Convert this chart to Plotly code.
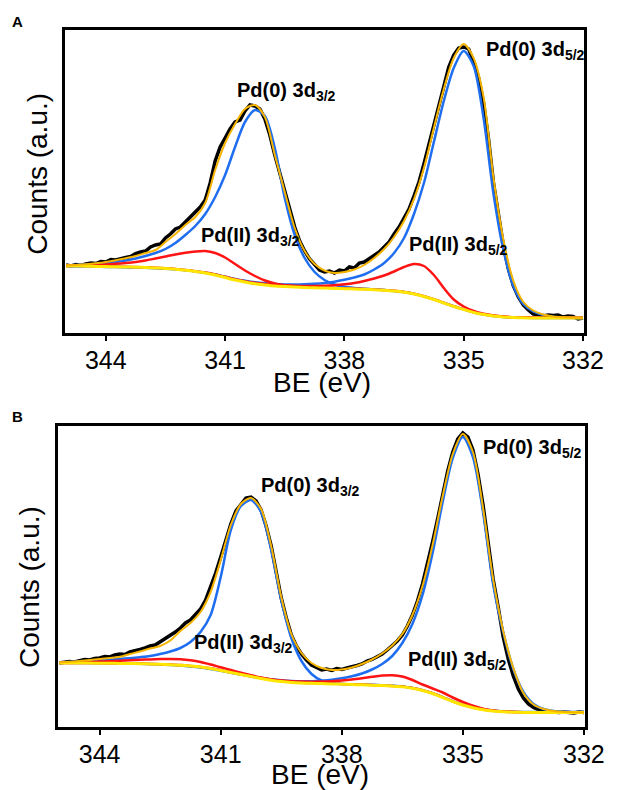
import plotly.graph_objects as go

# binding energy grid of the fitted curves (eV)
BE = [345.0, 344.75, 344.5, 344.25, 344.0, 343.75, 343.5, 343.25, 343.0, 342.75,
      342.5, 342.25, 342.0, 341.75, 341.5, 341.25, 341.0, 340.75, 340.5, 340.25,
      340.0, 339.75, 339.5, 339.25, 339.0, 338.75, 338.5, 338.25, 338.0, 337.75,
      337.5, 337.25, 337.0, 336.75, 336.5, 336.25, 336.0, 335.75, 335.5, 335.25,
      335.0, 334.75, 334.5, 334.25, 334.0, 333.75, 333.5, 333.25, 333.0, 332.75,
      332.5, 332.25, 332.0]

# binding energy grid of the measured spectra (eV)
BE_RAW = [345.0, 344.875, 344.75, 344.625, 344.5, 344.375, 344.25, 344.125,
          344.0, 343.875, 343.75, 343.625, 343.5, 343.375, 343.25, 343.125,
          343.0, 342.875, 342.75, 342.625, 342.5, 342.375, 342.25, 342.125,
          342.0, 341.875, 341.75, 341.625, 341.5, 341.375, 341.25, 341.125,
          341.0, 340.875, 340.75, 340.625, 340.5, 340.375, 340.25, 340.125,
          340.0, 339.875, 339.75, 339.625, 339.5, 339.375, 339.25, 339.125,
          339.0, 338.875, 338.75, 338.625, 338.5, 338.375, 338.25, 338.125,
          338.0, 337.875, 337.75, 337.625, 337.5, 337.375, 337.25, 337.125,
          337.0, 336.875, 336.75, 336.625, 336.5, 336.375, 336.25, 336.125,
          336.0, 335.875, 335.75, 335.625, 335.5, 335.375, 335.25, 335.125,
          335.0, 334.875, 334.75, 334.625, 334.5, 334.375, 334.25, 334.125,
          334.0, 333.875, 333.75, 333.625, 333.5, 333.375, 333.25, 333.125,
          333.0, 332.875, 332.75, 332.625, 332.5, 332.375, 332.25, 332.125,
          332.0]

# ---- panel A (counts, a.u.) ----
A_RAW = [68, 67, 68.5, 67.5, 69, 70, 69.5, 71.5,
         71, 73.5, 73, 74.5, 75.5, 76.5, 79.5, 81,
         82, 86, 88, 89, 95, 99, 104, 106,
         111, 117, 121, 126, 133, 150, 172, 186,
         195, 204, 211, 213, 222, 228, 227, 224,
         214, 198, 178, 160, 141, 122, 106, 92,
         82, 74, 68, 63, 61, 62, 60, 63,
         62, 66, 65, 70, 71, 74, 78, 81,
         86, 91, 99, 106, 115, 124, 137, 151,
         169, 188, 208, 228, 248, 266, 278, 285,
         286, 284, 271, 255, 230, 194, 150, 116,
         87, 64, 47, 36, 28, 23, 19, 18.5,
         17, 18, 17.5, 18, 16, 17, 16.5, 14,
         15]
A_ENVELOPE = [67.5, 68, 68.7, 69.7, 71, 72.7, 74.7, 77, 80, 83,
              91, 99, 108, 116, 130, 163, 190, 209, 224, 228,
              216, 178, 141, 105, 82, 69, 62.5, 60, 61, 63.5,
              68, 75, 84, 96, 112, 134, 165, 205, 244, 275,
              289, 275, 236, 155, 93, 52, 31, 22.5, 18.5, 16.5,
              15.7, 15.3, 15]
A_PD0_32 = [67.5, 68, 68.5, 69, 70, 71, 72.5, 74.5, 77, 80,
            84, 90, 98, 107, 119, 136, 158, 186, 211, 223,
            217, 185, 135, 98, 75, 61, 53, 48.5, 46.2, 45,
            44.2, 43.6, 43, 42.1, 40.9, 39.1, 36.6, 33.6, 30.1, 26.6,
            23.6, 20.6, 18.6, 17.1, 16.1, 15.6, 15.3, 15.1, 15.1, 15.1,
            15.1, 15.1, 15.1]
A_PD0_52 = [66.7, 66.6, 66.5, 66.3, 66.1, 65.9, 65.7, 65.5, 65.2, 64.8,
            64.3, 63.6, 62.7, 61.6, 60.2, 58.4, 56.2, 54, 52.2, 50.7,
            49.7, 49, 48.6, 48.5, 48.7, 49.2, 50, 51.3, 53.2, 55.5,
            58.5, 63.5, 70, 80, 95, 119, 150, 191, 232, 265,
            282, 267, 215, 139, 83, 47, 29, 21.5, 18, 16.2,
            15.5, 15.2, 15]
A_PD2_32 = [67, 67.2, 67.5, 68, 68.5, 69.2, 70, 71, 72.5, 74.5,
            76.5, 78.5, 80.2, 81.5, 82, 80, 75.5, 69, 62.5, 57,
            52.5, 49.5, 47.7, 46.7, 46, 45.6, 45.3, 45, 44.7, 44.3,
            44, 43.6, 43.1, 42.3, 41.1, 39.3, 36.8, 33.8, 30.3, 26.8,
            23.8, 20.8, 18.8, 17.3, 16.3, 15.8, 15.5, 15.3, 15.3, 15.3,
            15.3, 15.3, 15.3]
A_PD2_52 = [67.2, 67.2, 67, 66.8, 66.6, 66.4, 66.2, 66, 65.7, 65.2,
            64.7, 64, 63, 61.8, 60.4, 58.5, 56.2, 53.8, 51.8, 50.2,
            49.1, 48.2, 47.6, 47.2, 47, 47, 47.2, 47.8, 48.7, 50,
            52, 54.5, 57.5, 61.5, 66, 69, 67, 58, 45, 33.5,
            26.5, 22, 19.2, 17.5, 16.4, 15.8, 15.5, 15.3, 15.3, 15.3,
            15.3, 15.3, 15.3]
A_BACKGROUND = [67, 67, 66.8, 66.6, 66.4, 66.2, 66, 65.8, 65.5, 65,
                64.5, 63.7, 62.7, 61.5, 60, 58, 55.5, 53, 51, 49.2,
                48, 47, 46.4, 45.9, 45.5, 45.2, 44.9, 44.6, 44.3, 44,
                43.7, 43.3, 42.8, 42, 40.8, 39, 36.5, 33.5, 30, 26.5,
                23.5, 20.5, 18.5, 17, 16, 15.5, 15.2, 15, 15, 15,
                15, 15, 15]

# ---- panel B (counts, a.u.) ----
B_RAW = [64, 64.5, 65.5, 65, 66.5, 67.5, 67, 68.5,
         69, 70.5, 70, 72, 73, 72.5, 75, 76,
         77.5, 79, 81, 82, 85, 88, 91, 95,
         99, 104, 107, 112, 118, 127, 140, 154,
         170, 186, 203, 216, 222, 229, 230, 226,
         217, 201, 181, 155, 129, 109, 92, 81,
         73, 67, 62, 59.5, 57, 58, 56.5, 58.5,
         57.5, 59, 60, 61.5, 63, 66, 67.5, 70,
         73, 77, 81, 86, 92, 101, 112, 126,
         143, 163, 185, 208, 233, 256, 275, 288,
         294, 290, 277, 253, 222, 186, 148, 120,
         90, 68, 51, 38, 29, 23, 19.5, 17.5,
         16, 15.5, 15, 14.5, 15, 14.5, 14, 15,
         14.5]
B_ENVELOPE = [64.5, 65.2, 66, 67, 68, 69, 70.2, 73, 75.5, 78.5,
              81, 86.5, 96, 104, 115, 135, 167, 202, 223, 229,
              218, 181, 130, 93, 74, 64, 59, 57, 57.5, 59.5,
              63, 67.5, 73.5, 81.5, 93, 112, 141, 182, 231, 273,
              293, 275, 219, 148, 96, 59, 34, 22.5, 18, 16,
              15.2, 14.8, 14.5]
B_PD0_32 = [64.5, 65, 65.5, 66, 66.7, 67.3, 68, 68.8, 69.8, 71,
            73, 75.5, 79, 85, 95, 112, 150, 197, 221, 227,
            215, 177, 127, 89, 66, 53, 46.5, 44, 43, 42.7,
            42.6, 42.2, 41.8, 41.3, 40.6, 39.1, 36.9, 33.9, 29.9, 25.9,
            22.4, 19.6, 17.7, 16.4, 15.6, 15.2, 15, 14.9, 14.9, 14.9,
            14.9, 14.9, 14.9]
B_PD0_52 = [64.2, 64.1, 64, 63.9, 63.8, 63.7, 63.6, 63.4, 63.2, 62.9,
            62.5, 62, 61.4, 60.5, 59.4, 58, 56.2, 54.3, 52.4, 50.6,
            49, 47.7, 46.7, 46, 45.7, 45.8, 46.3, 47.2, 48.7, 50.7,
            53.5, 57.5, 63, 71, 84, 103, 132, 174, 225, 269,
            290, 270, 215, 143, 95, 58, 35, 23, 18, 16,
            15.2, 14.7, 14.5]
B_PD2_32 = [64.2, 64.4, 64.7, 65, 65.4, 65.8, 66.2, 66.7, 67.2, 67.6,
            67.9, 68, 67.7, 66.7, 65, 62.5, 59.7, 57, 54.3, 51.8,
            49.5, 47.5, 46, 44.9, 44.3, 43.9, 43.6, 43.3, 43, 42.7,
            42.4, 42, 41.6, 41.1, 40.4, 38.9, 36.7, 33.7, 29.7, 25.7,
            22.2, 19.4, 17.5, 16.2, 15.4, 15, 14.8, 14.7, 14.7, 14.7,
            14.7, 14.7, 14.7]
B_PD2_52 = [64.1, 64.1, 64.1, 64, 63.9, 63.8, 63.7, 63.6, 63.4, 63.1,
            62.8, 62.4, 61.9, 61.1, 60.1, 58.7, 56.8, 54.8, 52.8, 50.9,
            49.1, 47.6, 46.5, 45.8, 45.4, 45.3, 45.4, 45.8, 46.5, 47.5,
            48.8, 50.2, 51.4, 51.8, 50.5, 47, 42.5, 38.5, 34.5, 29.5,
            25, 21.2, 18.4, 16.5, 15.5, 15, 14.8, 14.7, 14.7, 14.7,
            14.7, 14.7, 14.7]
B_BACKGROUND = [64, 64, 64, 63.9, 63.8, 63.7, 63.6, 63.5, 63.3, 63,
                62.7, 62.3, 61.8, 61, 60, 58.5, 56.5, 54.5, 52.5, 50.5,
                48.5, 46.8, 45.5, 44.5, 44, 43.7, 43.4, 43.1, 42.8, 42.5,
                42.2, 41.8, 41.4, 40.9, 40.2, 38.7, 36.5, 33.5, 29.5, 25.5,
                22, 19.2, 17.3, 16, 15.2, 14.8, 14.6, 14.5, 14.5, 14.5,
                14.5, 14.5, 14.5]

TICKS = [344, 341, 338, 335, 332]

BLACK = '#000000'
ORANGE = '#F5B400'
BLUE = '#1F6EF0'
RED = '#FF1414'
YELLOW = '#FFE600'
FONT = 'Liberation Sans, Arial, sans-serif'

# peak labels: (text, left BE, counts)
A_LABELS = [
    ('Pd(0) 3d<sub>3/2</sub>', 340.76, 241),
    ('Pd(0) 3d<sub>5/2</sub>', 334.49, 282),
    ('Pd(II) 3d<sub>3/2</sub>', 341.66, 97),
    ('Pd(II) 3d<sub>5/2</sub>', 336.43, 88),
]
B_LABELS = [
    ('Pd(0) 3d<sub>3/2</sub>', 340.04, 241),
    ('Pd(0) 3d<sub>5/2</sub>', 334.54, 279),
    ('Pd(II) 3d<sub>3/2</sub>', 341.70, 84),
    ('Pd(II) 3d<sub>5/2</sub>', 336.42, 67),
]


def add_panel(fig, n, raw, envelope, pd0_32, pd0_52, pd2_32, pd2_52, background):
    xa = 'x' if n == 1 else f'x{n}'
    ya = 'y' if n == 1 else f'y{n}'
    fig.add_trace(go.Scatter(x=BE_RAW, y=raw, mode='lines',
                             line=dict(color=BLACK, width=3.5),
                             xaxis=xa, yaxis=ya))
    for comp, color in ((pd0_32, BLUE), (pd0_52, BLUE), (pd2_32, RED), (pd2_52, RED)):
        fig.add_trace(go.Scatter(x=BE, y=comp, mode='lines',
                                 line=dict(color=color, width=2.5, shape='spline', smoothing=0.8),
                                 xaxis=xa, yaxis=ya))
    fig.add_trace(go.Scatter(x=BE, y=background, mode='lines',
                             line=dict(color=YELLOW, width=3, shape='spline', smoothing=0.8),
                             xaxis=xa, yaxis=ya))
    fig.add_trace(go.Scatter(x=BE, y=envelope, mode='lines',
                             line=dict(color=ORANGE, width=2, shape='spline', smoothing=0.8),
                             xaxis=xa, yaxis=ya))


fig = go.Figure()
add_panel(fig, 1, A_RAW, A_ENVELOPE, A_PD0_32, A_PD0_52, A_PD2_32, A_PD2_52, A_BACKGROUND)
add_panel(fig, 2, B_RAW, B_ENVELOPE, B_PD0_32, B_PD0_52, B_PD2_32, B_PD2_52, B_BACKGROUND)


def x_axis(domain, anchor):
    return dict(domain=domain, anchor=anchor, range=[345.03, 331.98],
                tickvals=TICKS, ticks='outside', ticklen=5, tickwidth=2, tickcolor=BLACK,
                ticklabelstandoff=-2,
                showline=True, linewidth=3, linecolor=BLACK, mirror=True,
                showgrid=False, zeroline=False,
                tickfont=dict(family=FONT, size=25, color=BLACK))


def y_axis(domain, anchor, top):
    return dict(domain=domain, anchor=anchor, range=[0, top],
                showticklabels=False, ticks='', showline=True, linewidth=3,
                linecolor=BLACK, mirror=True, showgrid=False, zeroline=False)


annotations = []
for labels, xr, yr in ((A_LABELS, 'x', 'y'), (B_LABELS, 'x2', 'y2')):
    for text, x, y in labels:
        annotations.append(dict(text=f'<b>{text}</b>', x=x, y=y, xref=xr, yref=yr,
                                xanchor='left', yanchor='middle', showarrow=False,
                                font=dict(family=FONT, size=20, color=BLACK)))

# axis titles (pixel positions) and panel letters
for text, x, y in (('BE (eV)', 333, 383), ('BE (eV)', 331, 774)):
    annotations.append(dict(text=text, x=x / 627, y=1 - y / 790, xref='paper', yref='paper',
                            showarrow=False, xanchor='center', yanchor='middle',
                            font=dict(family=FONT, size=28, color=BLACK)))
for text, x, y in (('Counts (a.u.)', 38, 174), ('Counts (a.u.)', 30, 587)):
    annotations.append(dict(text=text, x=x / 627, y=1 - y / 790, xref='paper', yref='paper',
                            textangle=-90, showarrow=False, xanchor='center', yanchor='middle',
                            font=dict(family=FONT, size=28, color=BLACK)))
for text, x, y in (('A', 18, 21), ('B', 18, 416)):
    annotations.append(dict(text=f'<b>{text}</b>', x=x / 627, y=1 - y / 790, xref='paper',
                            yref='paper', showarrow=False, xanchor='center', yanchor='middle',
                            font=dict(family=FONT, size=15, color=BLACK)))

fig.update_layout(
    width=627, height=790,
    margin=dict(l=0, r=0, t=0, b=0),
    paper_bgcolor='white', plot_bgcolor='white',
    showlegend=False,
    xaxis=x_axis([67 / 627, 603 / 627], 'y'),
    yaxis=y_axis([1 - 333 / 790, 1 - 30 / 790], 'x', 303),
    xaxis2=x_axis([60 / 627, 604 / 627], 'y2'),
    yaxis2=y_axis([1 - 727 / 790, 1 - 426 / 790], 'x2', 301),
    annotations=annotations,
)

# the page body has a default margin; drop it so the figure sits at the window origin
fig.write_html('out.html', config={'displayModeBar': False},
               post_script="document.body.style.margin = '0px';")
